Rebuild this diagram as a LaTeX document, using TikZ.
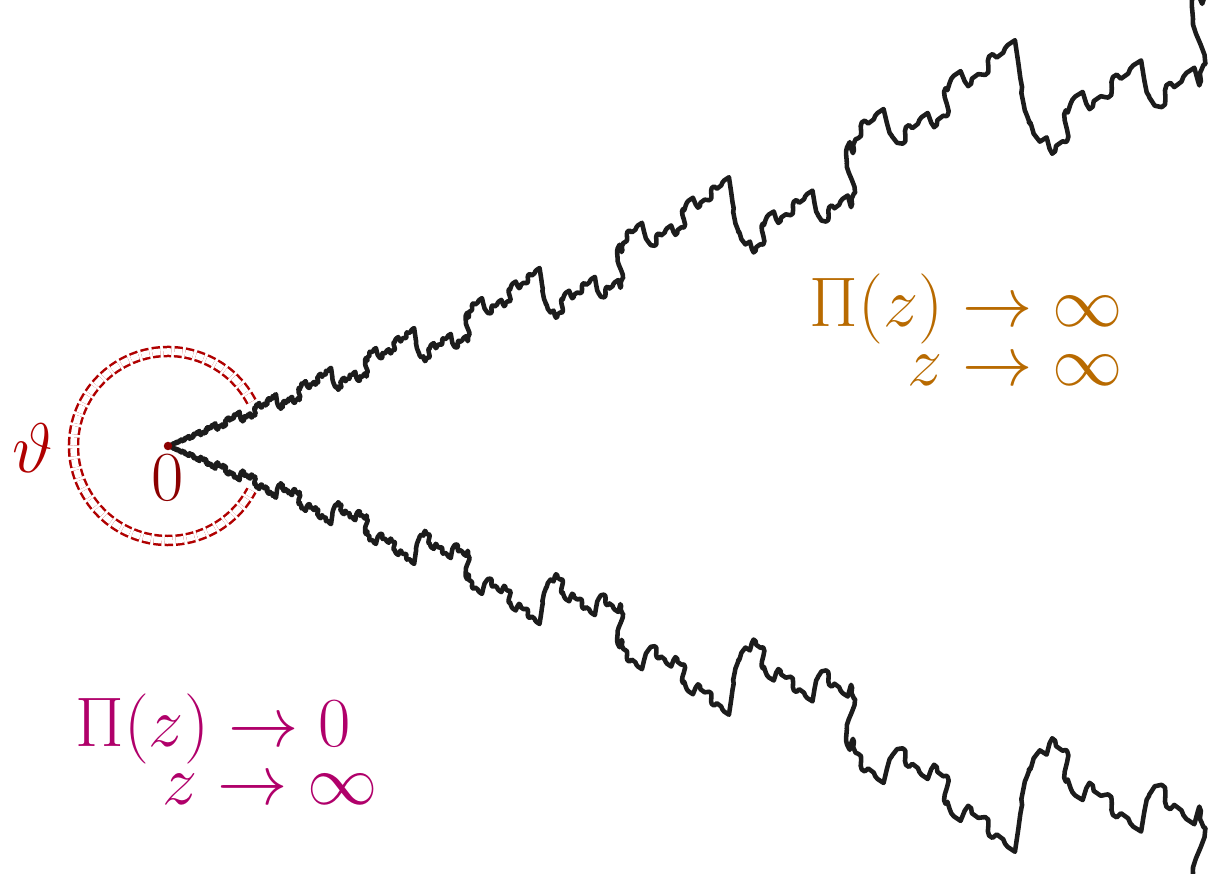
\RequirePackage{fix-cm}
\documentclass[tikz,border=0pt]{standalone}
\usetikzlibrary{positioning}
\definecolor{hullblack}{HTML}{1C1C1C}
\definecolor{thetared}{HTML}{B00000}
\definecolor{zerored}{HTML}{8B0000}
\definecolor{inftyorange}{HTML}{B86A00}
\definecolor{zeromagenta}{HTML}{B0006A}
\begin{document}
\begin{tikzpicture}[x=0.02cm,y=0.02cm,
	declare function={
		notch(\p)=(\p<0.6)?(-min(10*\p,1-0.5714*(\p-0.1),0.8-4.667*(\p-0.45))):(-0.25*(1-\p));
		slide(\p)=-1.1*\p+1.2714*max(0,\p-0.1)-0.5048*max(0,\p-0.45)+0.5833*max(0,\p-0.6);
		logr(\p)=\p+slide(frac(\p))+slide(frac(3*\p))/3+slide(frac(9*\p))/9+slide(frac(27*\p))/27;
		rough(\p)=notch(frac(\p))+0.42*notch(frac(3*\p))+0.18*notch(frac(9*\p))+0.074*notch(frac(27*\p));
		hullr(\p)=412*exp(0.412*(logr(\p)-12));
		hullphi(\p)=25.6+4.6*rough(\p);
	},
	lbl/.style={inner sep=0pt,font=\fontsize{40}{48}\selectfont},
	hull/.style={hullblack,line width=2.6pt,line join=round,line cap=round},
	arcline/.style={thetared,line width=0.05cm,double=white,double distance=0.13cm,
		dash pattern=on 0.16cm off 0.06cm}]
		\useasboundingbox (-168,-428) rectangle (1060,446);
		\coordinate (O) at (0,0);
		% the two rough edges of the wedge
		\begin{scope}
			\clip (-168,-428) rectangle (1060,446);
			\draw[hull] (O) -- plot[domain=135:720,samples=586,variable=\k]
			({hullphi(\k/90)}:{hullr(\k/90)})
			-- plot[domain=1440:2628,samples=1189,variable=\k]
			({hullphi(\k/180)}:{hullr(\k/180)});
			\draw[hull] (O) -- plot[domain=135:720,samples=586,variable=\k]
			({-hullphi(\k/90)}:{hullr(\k/90)})
			-- plot[domain=1440:2628,samples=1189,variable=\k]
			({-hullphi(\k/180)}:{hullr(\k/180)});
		\end{scope}
		% angle round the tip
		\draw[arcline] (O) ++(28:94.5) arc[start angle=28,end angle=332,radius=94.5];
		\node[circle,fill=zerored,inner sep=0pt,minimum size=0.17cm] (dot) at (O) {};
		\node[lbl,text=zerored,below=0.08cm of dot] (zero) {$0$};
		\node[lbl,text=thetared] (theta) at (-135,-2) {$\vartheta$};
		\node[lbl,text=inftyorange,anchor=base east] (big) at (955,119) {$\Pi(z)\to\infty$};
		\node[lbl,text=inftyorange,anchor=base east] (bigz) at (955,60) {$z\to\infty$};
		\node[lbl,text=zeromagenta,anchor=base west] (small) at (-93,-301) {$\Pi(z)\to0$};
		\node[lbl,text=zeromagenta,anchor=base east] (smallz) at (210,-359) {$z\to\infty$};
	\end{tikzpicture}
\end{document}
